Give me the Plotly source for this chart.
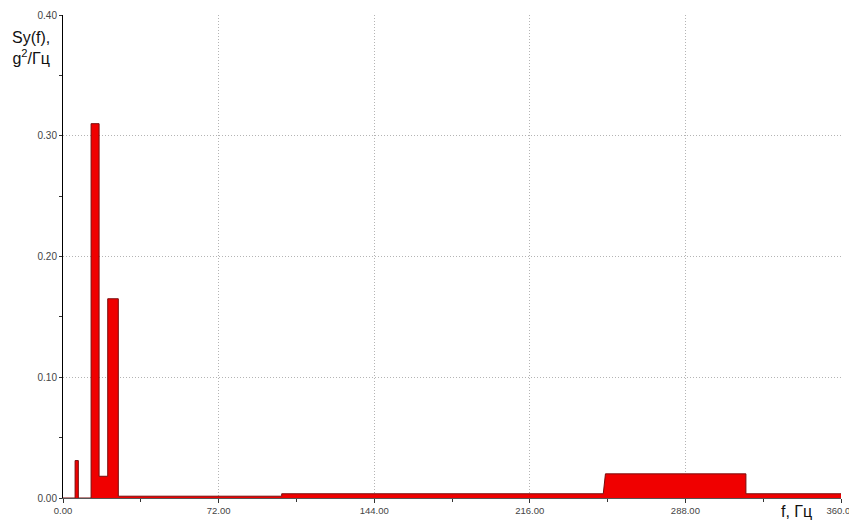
import plotly.graph_objects as go

# spectrum step edges (Hz) and level that holds from each edge to the next
freq_edges = [0.0, 5.6, 7.1, 13.0, 16.7, 20.7, 25.6, 101.2, 250.0, 251.0, 316.0, 360.0]
psd_levels = [0.0, 0.031, 0.0, 0.310, 0.018, 0.165, 0.0015, 0.0035, 0.0035, 0.020, 0.0035, 0.0035]

x_ticks = [0, 72, 144, 216, 288, 360]
y_ticks = [0.0, 0.1, 0.2, 0.3, 0.4]

# build a step outline from the edges; the 250 Hz rise is a short ramp
xs, ys = [], []
for i, (f, v) in enumerate(zip(freq_edges, psd_levels)):
    if i > 0 and f != 250.0 and f != 251.0:
        xs.append(f)
        ys.append(psd_levels[i - 1])
    xs.append(f)
    ys.append(v)

fig = go.Figure()
fig.add_trace(go.Scatter(
    x=xs, y=ys,
    mode="lines",
    line=dict(color="#7a0c0c", width=1),
    fill="tozeroy",
    fillcolor="#f00000",
    hoverinfo="skip",
    showlegend=False,
))

fig.update_xaxes(
    range=[0, 360],
    tickvals=x_ticks,
    ticktext=["%.2f" % t for t in x_ticks],
    showgrid=True, gridcolor="#b4b4b4", griddash="1px,2px", gridwidth=1,
    showline=True, linecolor="#555", linewidth=1,
    ticks="outside", ticklen=4, tickcolor="#333",
    minor=dict(dtick=36, ticks="outside", ticklen=3, tickcolor="#333", showgrid=False),
    zeroline=False, automargin=False, ticklabeloverflow="allow",
    tickfont=dict(family="Arial, Liberation Sans", size=9.5, color="#444"),
)
fig.update_yaxes(
    range=[0, 0.4],
    tickvals=y_ticks,
    ticktext=["%.2f" % t for t in y_ticks],
    showgrid=True, gridcolor="#b4b4b4", griddash="1px,2px", gridwidth=1,
    showline=True, linecolor="#000", linewidth=1,
    ticks="outside", ticklen=3, tickcolor="#333",
    minor=dict(dtick=0.05, ticks="outside", ticklen=3, tickcolor="#333", showgrid=False),
    zeroline=False, automargin=False, ticklabeloverflow="allow",
    tickfont=dict(family="Arial, Liberation Sans", size=10, color="#444"),
)

# the page adds an 8px body margin, so the figure is 8px smaller each way
fig.update_layout(
    width=849, height=515,
    margin=dict(l=55, r=16, t=7, b=25),
    plot_bgcolor="white",
    paper_bgcolor="white",
    annotations=[
        dict(text="Sy(f),<br>g<sup>2</sup>/Гц", xref="paper", yref="paper",
             x=-0.041, y=0.975, xanchor="center", yanchor="top", showarrow=False,
             font=dict(family="Arial, Liberation Sans", size=16, color="#111")),
        dict(text="f, Гц", xref="paper", yref="paper",
             x=0.943, y=-0.027, xanchor="center", yanchor="middle", showarrow=False,
             font=dict(family="Arial, Liberation Sans", size=16, color="#111")),
    ],
)

fig.write_html("out.html")
